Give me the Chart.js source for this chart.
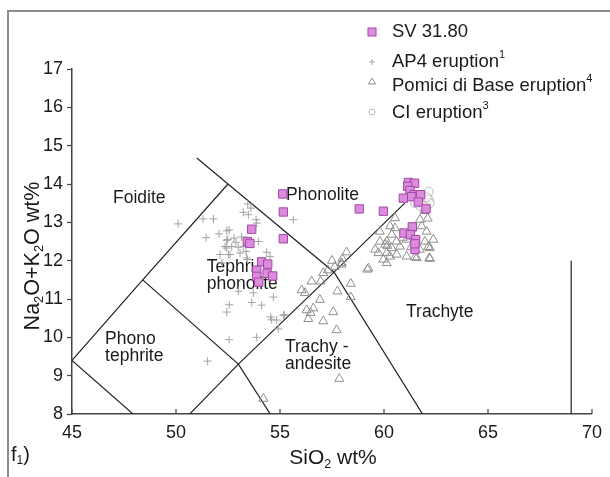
<!DOCTYPE html>
<html lang="en">
<head>
<meta charset="UTF-8">
<title>TAS diagram - SV 31.80</title>
<script src="https://cdn.jsdelivr.net/npm/chart.js"></script>
<style>
  body { margin: 0; background: #fff; }
  .wrap { position: relative; width: 610px; height: 477px; overflow: hidden; }
  .frame { position: absolute; left: 7px; top: 10px; width: 620px; height: 480px; border-top: 2px solid #8c8c8c; border-left: 2px solid #8c8c8c; }
  canvas { position: absolute; left: 0; top: 0; }
</style>
</head>
<body>
<div class="wrap">
  <div class="frame"></div>
  <canvas id="tas" width="610" height="477"></canvas>
</div>
<script>
// axis ticks
const xTicks = [45, 50, 55, 60, 65, 70];
const yTicks = [8, 9, 10, 11, 12, 13, 14, 15, 16, 17];

// SV 31.80 (SiO2, Na2O+K2O)
const sv3180 = [
  [55.13, 13.74], [55.16, 13.27], [55.16, 12.57], [53.64, 12.82], [53.43, 12.5], [53.55, 12.45],
  [54.12, 11.97], [54.41, 11.91], [53.88, 11.75], [54.38, 11.67], [54.65, 11.6], [53.88, 11.59],
  [53.98, 11.44], [58.81, 13.35], [59.97, 13.29],
  [61.17, 14.04], [61.47, 14.02], [61.14, 13.94], [61.25, 13.83], [60.93, 13.63], [61.44, 13.72],
  [61.76, 13.72], [61.33, 13.67], [61.65, 13.53], [62.02, 13.35], [61.36, 12.88], [60.96, 12.72],
  [61.27, 12.68], [61.52, 12.55], [61.49, 12.29], [61.49, 12.44]
];

// AP4 eruption
const ap4 = [
  [50.1, 12.96], [51.3, 13.09], [51.8, 13.09], [51.45, 12.6], [52.07, 12.7], [52.44, 12.78],
  [52.55, 12.8], [53.24, 13.26], [53.48, 13.2], [53.6, 13.37], [53.45, 13.48], [53.85, 13.07],
  [53.88, 12.98], [55.64, 13.07], [52.88, 12.48], [52.49, 12.55], [52.79, 12.59],
  [53.15, 12.62], [52.44, 12.53], [52.36, 12.37], [52.68, 12.37], [52.99, 12.35], [52.44, 12.33],
  [53.24, 12.37], [52.12, 12.16], [52.52, 12.16], [52.6, 12.16], [53.08, 12.2], [53.37, 12.24],
  [53.96, 12.5], [54.36, 12.22], [54.52, 12.11], [53.4, 12.07], [52.2, 11.94], [53.43, 12.03],
  [53.0, 11.2], [53.72, 11.16], [52.56, 10.85], [53.64, 10.91], [54.12, 10.84], [54.68, 11.05],
  [52.44, 10.66], [54.55, 10.53], [54.84, 10.45], [55.21, 10.59], [54.92, 10.22], [52.55, 9.94],
  [53.88, 10.0], [51.52, 9.38], [54.6, 10.46], [55.16, 10.57]
];

// Pomici di Base eruption
const pomiciDiBase = [
  [58.2, 12.22], [59.25, 11.8], [59.8, 12.76], [60.13, 12.5], [60.37, 12.68], [60.53, 12.85],
  [60.29, 12.9], [60.37, 12.33], [60.77, 12.37], [60.61, 12.16], [60.13, 12.2], [59.97, 12.03],
  [61.09, 12.55], [61.73, 13.07], [61.81, 12.9], [62.05, 12.76], [61.97, 12.5], [62.21, 12.33],
  [61.73, 12.29], [62.18, 12.07], [61.49, 12.09], [61.09, 12.11], [60.29, 12.11], [60.05, 12.42],
  [60.53, 13.11], [59.81, 12.5], [59.57, 12.29], [62.37, 12.55], [62.13, 12.36], [62.21, 12.05],
  [61.57, 12.07], [60.13, 11.94], [59.73, 12.2], [60.16, 12.39], [60.9, 12.6], [61.3, 12.35],
  [60.6, 12.5], [61.95, 13.3], [62.1, 13.1],
  [57.64, 11.84], [57.96, 11.9], [57.08, 11.68], [59.2, 11.77], [56.52, 11.46], [56.95, 11.46],
  [57.76, 11.2], [58.4, 11.4], [58.4, 11.05], [56.04, 11.23], [56.92, 10.98], [56.6, 10.76],
  [56.47, 10.64], [56.36, 10.48], [57.08, 10.42], [57.56, 10.66], [57.72, 10.19], [57.85, 8.92],
  [57.96, 11.94], [57.3, 11.75], [56.2, 11.16], [56.28, 10.71], [54.2, 8.4], [58.0, 12.05], [57.5, 12.0]
];

// CI eruption
const ciEruption = [
  [62.15, 13.8], [61.75, 13.6], [61.95, 13.5], [61.5, 13.5], [61.75, 13.42], [62.15, 13.6],
  [62.2, 13.5], [61.9, 13.42], [62.05, 13.65]
];

// TAS field boundaries (vertices)
const tasLines = [
  [[45, 9.4], [48.4, 11.5], [52.5, 14]],
  [[45, 9.4], [49.4, 7.3]],
  [[48.4, 11.5], [53, 9.3], [57, 5.9]],
  [[49.4, 7.3], [53, 9.3], [57.6, 11.7], [61, 13.5]],
  [[51, 14.68], [52.5, 14], [57.6, 11.7], [63, 7]],
  [[69, 8], [69, 12]]
];

// field names, anchored at left edge / vertical middle
const fieldNames = ['Foidite', 'Phonolite', 'Tephri-\nphonolite', 'Phono\ntephrite', 'Trachy -\nandesite', 'Trachyte'];
const fieldX = [46.97, 55.29, 51.48, 46.59, 55.24, 61.06];
const fieldY = [13.62, 13.72, 11.61, 9.72, 9.51, 10.65];

const FONT = "'Liberation Sans', Arial, sans-serif";
const TEXT = '#1a1a1a';
const toXY = arr => arr.map(p => ({ x: p[0], y: p[1] }));

// draw text with sub/superscripts
function richText(ctx, pieces, x, y, size, align) {
  const parts = pieces.map(p => {
    const s = p.sub || p.sup ? size * 0.6 : size;
    ctx.font = s + 'px ' + FONT;
    return { t: p.t, s: s, w: ctx.measureText(p.t).width, dy: p.sub ? size * 0.3 : (p.sup ? -size * 0.38 : 0) };
  });
  const total = parts.reduce((a, p) => a + p.w, 0);
  let cx = align === 'center' ? x - total / 2 : x;
  ctx.textBaseline = 'middle';
  ctx.textAlign = 'left';
  parts.forEach(p => {
    ctx.font = p.s + 'px ' + FONT;
    ctx.fillText(p.t, cx, y + p.dy);
    cx += p.w;
  });
}

const fieldLabels = {
  id: 'fieldLabels',
  beforeDatasetsDraw(chart) {
    const { ctx, scales: { x, y } } = chart;
    ctx.save();
    ctx.fillStyle = TEXT;
    ctx.font = '17.5px ' + FONT;
    ctx.textAlign = 'left';
    ctx.textBaseline = 'middle';
    fieldNames.forEach((name, i) => {
      const lines = name.split('\n');
      const px = x.getPixelForValue(fieldX[i]);
      const py = y.getPixelForValue(fieldY[i]);
      const lh = 17;
      lines.forEach((ln, j) => {
        ctx.fillText(ln, px, py + (j - (lines.length - 1) / 2) * lh);
      });
    });
    // inward x tick marks
    ctx.strokeStyle = '#444';
    ctx.lineWidth = 1.2;
    xTicks.forEach(v => {
      const px = x.getPixelForValue(v);
      ctx.beginPath();
      ctx.moveTo(px, chart.chartArea.bottom);
      ctx.lineTo(px, chart.chartArea.bottom - 5);
      ctx.stroke();
    });
    ctx.restore();
  }
};

const decorations = {
  id: 'decorations',
  afterDraw(chart) {
    const { ctx } = chart;
    ctx.save();
    ctx.fillStyle = TEXT;
    // axis titles
    richText(ctx, [{ t: 'SiO' }, { t: '2', sub: true }, { t: ' wt%' }], 333, 458, 21, 'center');
    ctx.save();
    ctx.translate(33, 256);
    ctx.rotate(-Math.PI / 2);
    richText(ctx, [{ t: 'Na' }, { t: '2', sub: true }, { t: 'O+K' }, { t: '2', sub: true }, { t: 'O wt%' }], 0, 0, 21.5, 'center');
    ctx.restore();
    richText(ctx, [{ t: 'f' }, { t: '1', sub: true }, { t: ')' }], 11, 455, 20, 'left');

    // legend
    const mx = 372, tx = 392;
    ctx.lineWidth = 1;
    ctx.fillStyle = '#dc8cdc';
    ctx.strokeStyle = '#a447a8';
    ctx.fillRect(mx - 4, 28, 8, 8);
    ctx.strokeRect(mx - 4, 28, 8, 8);
    ctx.strokeStyle = '#a0a0a0';
    ctx.beginPath();
    ctx.moveTo(mx - 3, 62); ctx.lineTo(mx + 3, 62);
    ctx.moveTo(mx, 59); ctx.lineTo(mx, 65);
    ctx.stroke();
    ctx.strokeStyle = '#8f8f8f';
    ctx.beginPath();
    ctx.moveTo(mx, 78); ctx.lineTo(mx + 3.5, 84); ctx.lineTo(mx - 3.5, 84); ctx.closePath();
    ctx.stroke();
    ctx.strokeStyle = '#b8b8b8';
    ctx.beginPath();
    ctx.arc(mx, 112, 3, 0, Math.PI * 2);
    ctx.stroke();

    ctx.fillStyle = TEXT;
    richText(ctx, [{ t: 'SV 31.80' }], tx, 32, 18.5, 'left');
    richText(ctx, [{ t: 'AP4 eruption' }, { t: '1', sup: true }], tx, 62, 18.5, 'left');
    richText(ctx, [{ t: 'Pomici di Base eruption' }, { t: '4', sup: true }], tx, 86, 18.5, 'left');
    richText(ctx, [{ t: 'CI eruption' }, { t: '3', sup: true }], tx, 113, 18.5, 'left');
    ctx.restore();
  }
};

const boundarySets = tasLines.map(line => ({
  data: toXY(line),
  showLine: true,
  borderColor: '#222',
  borderWidth: 1.2,
  pointRadius: 0,
  fill: false,
  tension: 0
}));

new Chart(document.getElementById('tas'), {
  type: 'scatter',
  data: {
    datasets: [
      { label: 'SV 31.80', data: toXY(sv3180), pointStyle: 'rect', pointRadius: 5.9,
        backgroundColor: '#dc8cdc', borderColor: '#a447a8', borderWidth: 1 },
      { label: 'AP4 eruption', data: toXY(ap4), pointStyle: 'cross', pointRadius: 4,
        borderColor: '#a3a3a3', borderWidth: 1 },
      { label: 'Pomici di Base eruption', data: toXY(pomiciDiBase), pointStyle: 'triangle', pointRadius: 5.2,
        backgroundColor: 'rgba(255,255,255,0)', borderColor: '#8f8f8f', borderWidth: 1 },
      { label: 'CI eruption', data: toXY(ciEruption), pointStyle: 'circle', pointRadius: 4.5,
        backgroundColor: 'rgba(255,255,255,0.5)', borderColor: '#b8b8b8', borderWidth: 1 },
      ...boundarySets
    ]
  },
  options: {
    responsive: false,
    animation: false,
    devicePixelRatio: 1,
    layout: { padding: { left: 0, right: 18, top: 69, bottom: 0 } },
    plugins: { legend: { display: false }, tooltip: { enabled: false } },
    scales: {
      x: {
        type: 'linear', min: 45, max: 70,
        afterFit: s => { s.height = 63; },
        afterBuildTicks: s => { s.ticks = xTicks.map(v => ({ value: v })); },
        border: { color: '#444', width: 1.5 },
        grid: { drawOnChartArea: false, drawTicks: false },
        ticks: { padding: 8, color: TEXT, font: { size: 18, family: FONT } }
      },
      y: {
        type: 'linear', min: 8, max: 17,
        afterFit: s => { s.width = 72; },
        afterBuildTicks: s => { s.ticks = yTicks.map(v => ({ value: v })); },
        border: { color: '#444', width: 1.5 },
        grid: { drawOnChartArea: false, drawTicks: true, tickLength: 5, tickColor: '#444', tickWidth: 1.2 },
        ticks: { padding: 4, color: TEXT, font: { size: 18, family: FONT } }
      }
    }
  },
  plugins: [fieldLabels, decorations]
});
</script>
</body>
</html>
